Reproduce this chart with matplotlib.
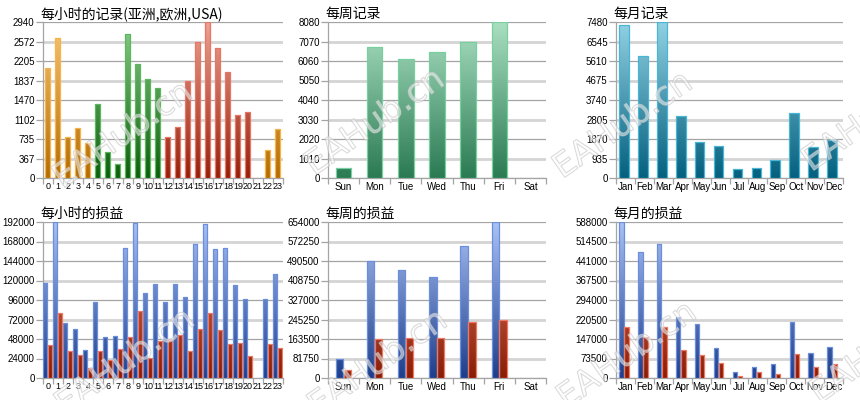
import numpy as np
import matplotlib
matplotlib.use("Agg")
import matplotlib.pyplot as plt
from matplotlib.colors import LinearSegmentedColormap
import matplotlib.patheffects as pe

plt.rcParams["font.family"] = ["Noto Sans CJK SC", "DejaVu Sans"]
TICK_FONT = ["Liberation Sans", "DejaVu Sans"]

# ── data ─────────────────────────────────────────────────────────────────────
hours = [str(h) for h in range(24)]
hour_session = ["asia"] * 5 + ["europe"] * 7 + ["usa"] * 9 + ["asia"] * 3
hour_records = [2079, 2645, 779, 936, 660, 1401, 490, 264, 2714, 2148, 1859, 1696,
                773, 967, 1828, 2569, 2940, 2444, 1998, 1181, 1244, 0, 534, 930]
hour_ticks = [0, 367, 735, 1102, 1470, 1837, 2205, 2572, 2940]

days = ["Sun", "Mon", "Tue", "Wed", "Thu", "Fri", "Sat"]
day_records = [501, 6785, 6164, 6509, 7044, 8080, 0]
day_ticks = [0, 1010, 2020, 3030, 4040, 5050, 6060, 7070, 8080]

months = ["Jan", "Feb", "Mar", "Apr", "May", "Jun",
          "Jul", "Aug", "Sep", "Oct", "Nov", "Dec"]
month_records = [7320, 5834, 7480, 2989, 1710, 1534, 432, 480, 863, 3117, 1470, 1822]
month_ticks = [0, 935, 1870, 2805, 3740, 4675, 5610, 6545, 7480]

hour_profit = [116900, 191600, 67300, 60300, 34900, 93100, 50500, 51300, 159600,
               190800, 104200, 115700, 94000, 116100, 100100, 164500, 189100,
               158800, 160400, 114100, 97600, 0, 96800, 127600]
hour_loss = [41000, 80000, 32800, 28300, 12300, 32800, 22200, 36100, 50900, 82500,
             25000, 45500, 46400, 52500, 33600, 59900, 80000, 58700, 42300, 42700,
             27100, 0, 42300, 37300]
hour_pl_ticks = [0, 24000, 48000, 72000, 96000, 120000, 144000, 168000, 192000]

day_profit = [79700, 489100, 454200, 424800, 554800, 654000, 0]
day_loss = [34900, 164900, 169100, 169100, 236200, 241800, 0]
day_pl_ticks = [0, 81750, 163500, 245250, 327000, 408750, 490500, 572250, 654000]

month_profit = [588000, 473700, 506300, 228700, 203500, 111800,
                22600, 40200, 52800, 212300, 95500, 118100]
month_loss = [193500, 154500, 191000, 104300, 86700, 57800,
              7500, 22600, 16300, 90500, 40200, 54000]
month_pl_ticks = [0, 73500, 147000, 220500, 294000, 367500, 441000, 514500, 588000]

# colours (top, bottom, edge)
SESSION_COL = {
    "asia":   ("#f8c674", "#b46c00", "#f8b448"),
    "europe": ("#8ace8a", "#0a5e0a", "#5cb85c"),
    "usa":    ("#f0a292", "#961e08", "#e87666"),
}
WEEK_COL = ("#aae0c2", "#2a7a52", "#78d0a0")
MONTH_COL = ("#92d2e4", "#04607e", "#48b6d6")
PROFIT_COL = ("#aac2f4", "#1e3e8a", "#6a8ee0")
LOSS_COL = ("#e88468", "#8a1c06", "#f07860")


def grad_bars(ax, xs, vals, width, ymax, cols):
    top, bot, edge = cols
    cmap = LinearSegmentedColormap.from_list("g", [bot, top])
    grad = np.linspace(0, 1, 256).reshape(-1, 1)
    lws = [0.9 if v > 0 else 0 for v in vals]
    bars = ax.bar(xs, vals, width, facecolor="none", edgecolor=edge,
                  linewidth=lws, zorder=4)
    for b in bars:
        if b.get_height() <= 0:
            continue
        x0 = b.get_x()
        im = ax.imshow(grad, extent=[x0, x0 + b.get_width(), 0, ymax],
                       origin="lower", cmap=cmap, aspect="auto", zorder=3,
                       interpolation="bilinear")
        im.set_clip_path(b)
    return bars


def style(ax, cats, ticks, title, xsize=7):
    n = len(cats)
    ymax = ticks[-1]
    for i, t in enumerate(ticks):
        if i % 2 == 0:
            ax.axhline(t, color="#a4a4a4", linewidth=0.9, zorder=1)
        else:
            ax.axhline(t, color="#d4d4d4", linewidth=2.0, zorder=1)
    ax.set_xlim(-0.5, n - 0.5)
    ax.set_ylim(0, ymax)
    ax.set_yticks(ticks)
    ax.set_yticklabels([str(t) for t in ticks], fontsize=7, family=TICK_FONT)
    ax.set_xticks(range(n))
    ax.set_xticklabels(cats, fontsize=xsize, family=TICK_FONT)
    ax.set_xticks(np.arange(-0.5, n, 1.0), minor=True)
    ax.tick_params(axis="x", which="major", length=0, pad=3)
    ax.tick_params(axis="x", which="minor", length=4, color="#a4a4a4", width=0.9)
    ax.tick_params(axis="y", length=5, color="#a4a4a4", width=0.9, pad=1)
    for s in ["top", "right"]:
        ax.spines[s].set_visible(False)
    for s in ["left", "bottom"]:
        ax.spines[s].set_color("#a4a4a4")
        ax.spines[s].set_linewidth(0.9)
    ax.set_title(title, loc="left", fontsize=10, pad=3, x=-0.01)


fig = plt.figure(figsize=(8.6, 4.0), dpi=100)
lefts = [43 / 860, 328 / 860, 616 / 860]
widths = [240 / 860, 218 / 860, 227 / 860]
bottoms = [1 - 178 / 400, 1 - 378 / 400]
h = 156 / 400
axs = [[fig.add_axes([lefts[c], bottoms[r], widths[c], h]) for c in range(3)]
       for r in range(2)]

# ── top row: records ─────────────────────────────────────────────────────────
ax = axs[0][0]
x = np.arange(24)
for sess in ["asia", "europe", "usa"]:
    idx = [i for i in range(24) if hour_session[i] == sess]
    grad_bars(ax, x[idx] - 0.05, [hour_records[i] for i in idx], 0.56,
              hour_ticks[-1], SESSION_COL[sess])
style(ax, hours, hour_ticks, "每小时的记录(亚洲,欧洲,USA)", xsize=6.5)

ax = axs[0][1]
grad_bars(ax, np.arange(7), day_records, 0.5, day_ticks[-1], WEEK_COL)
style(ax, days, day_ticks, "每周记录")

ax = axs[0][2]
grad_bars(ax, np.arange(12) - 0.08, month_records, 0.51, month_ticks[-1], MONTH_COL)
style(ax, months, month_ticks, "每月记录")

# ── bottom row: profit / loss ────────────────────────────────────────────────
ax = axs[1][0]
grad_bars(ax, x - 0.27, hour_profit, 0.42, hour_pl_ticks[-1], PROFIT_COL)
grad_bars(ax, x + 0.17, hour_loss, 0.42, hour_pl_ticks[-1], LOSS_COL)
style(ax, hours, hour_pl_ticks, "每小时的损益", xsize=6.5)

ax = axs[1][1]
xd = np.arange(7)
grad_bars(ax, xd - 0.13, day_profit, 0.235, day_pl_ticks[-1], PROFIT_COL)
grad_bars(ax, xd + 0.12, day_loss, 0.235, day_pl_ticks[-1], LOSS_COL)
style(ax, days, day_pl_ticks, "每周的损益")

ax = axs[1][2]
xm = np.arange(12)
grad_bars(ax, xm - 0.21, month_profit, 0.23, month_pl_ticks[-1], PROFIT_COL)
grad_bars(ax, xm + 0.06, month_loss, 0.23, month_pl_ticks[-1], LOSS_COL)
style(ax, months, month_pl_ticks, "每月的损益")

# ── watermark ────────────────────────────────────────────────────────────────
marks = [(123, 135), (375, 122), (623, 125), (872, 118),
         (125, 362), (378, 363), (627, 355), (880, 350)]
for mx, my in marks:
    fig.text(mx / 860, 1 - my / 400, "EAHub.cn", fontsize=24, rotation=35,
             ha="center", va="center", family="DejaVu Sans",
             color=(1, 1, 1, 0.3), zorder=10,
             path_effects=[pe.Stroke(linewidth=0.8, foreground=(0.75, 0.75, 0.75, 0.65)),
                           pe.Normal()])

fig.savefig("out.png", dpi=100)
